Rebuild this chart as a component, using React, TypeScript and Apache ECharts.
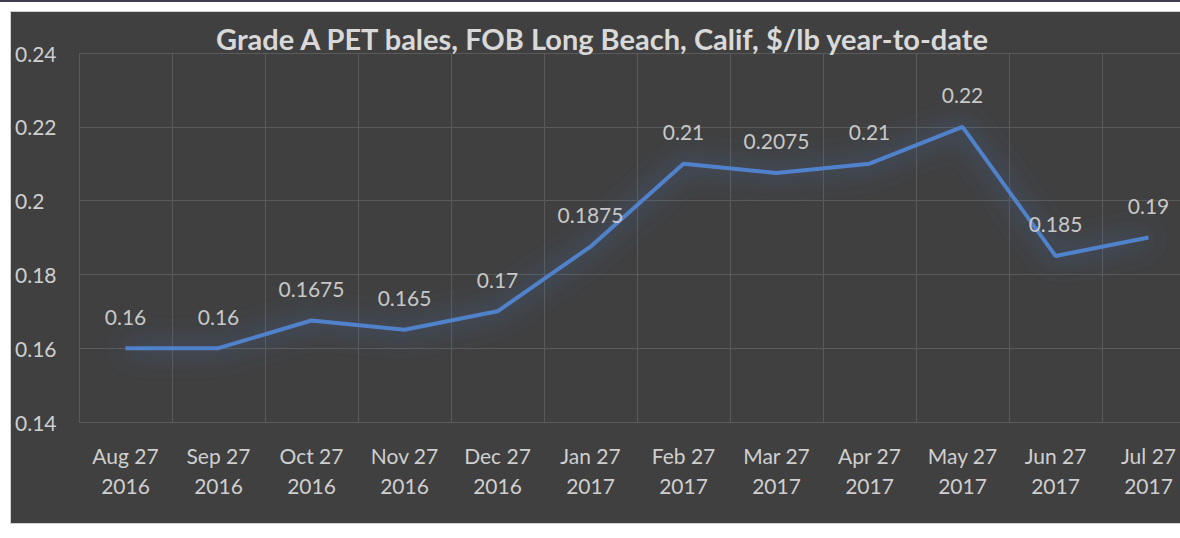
import React, { useEffect, useRef } from "react";
import * as echarts from "echarts";

const categories = [
  "Aug 27\n2016", "Sep 27\n2016", "Oct 27\n2016", "Nov 27\n2016", "Dec 27\n2016", "Jan 27\n2017",
  "Feb 27\n2017", "Mar 27\n2017", "Apr 27\n2017", "May 27\n2017", "Jun 27\n2017", "Jul 27\n2017",
];
const prices = [0.16, 0.16, 0.1675, 0.165, 0.17, 0.1875, 0.21, 0.2075, 0.21, 0.22, 0.185, 0.19];
const titleText = "Grade A PET bales, FOB Long Beach, Calif, $/lb year-to-date";

export default function App() {
  const ref = useRef<HTMLDivElement>(null);
  useEffect(() => {
    const chart = echarts.init(ref.current!, undefined, { renderer: "svg" });
    const font = "Lato, 'Open Sans', sans-serif";
    chart.setOption({
      animation: false,
      backgroundColor: "#404040",
      textStyle: { fontFamily: font },
      title: {
        text: titleText,
        left: 586,
        top: 7,
        textAlign: "center",
        textStyle: { color: "#d9d9d9", fontSize: 29, fontWeight: "bold", fontFamily: font },
      },
      grid: { left: 68, top: 41, width: 1116, height: 369 },
      xAxis: {
        type: "category",
        data: categories,
        boundaryGap: true,
        axisLine: { show: false },
        axisTick: { show: false },
        splitLine: { show: true, lineStyle: { color: "#5a5a5a", width: 1 } },
        axisLabel: { color: "#cfcfcf", fontSize: 21, lineHeight: 30, margin: 18, interval: 0, fontFamily: font },
      },
      yAxis: {
        type: "value",
        min: 0.14,
        max: 0.24,
        interval: 0.02,
        axisLine: { show: false },
        axisTick: { show: false },
        splitLine: { show: true, lineStyle: { color: "#5a5a5a", width: 1 } },
        axisLabel: {
          color: "#cfcfcf",
          fontSize: 21,
          align: "left",
          margin: 64,
          fontFamily: font,
          formatter: (v: number) => String(parseFloat(v.toFixed(4))),
        },
      },
      series: [
        {
          type: "line",
          data: prices,
          symbol: "circle",
          showSymbol: true,
          symbolSize: 1,
          itemStyle: { color: "rgba(0,0,0,0)" },
          lineStyle: {
            color: "#4f82ca",
            width: 4,
            shadowColor: "rgba(70,125,215,0.9)",
            shadowBlur: 28,
          },
          label: {
            show: true,
            position: "top",
            distance: 21,
            color: "#c8c8c8",
            fontSize: 21,
            fontFamily: font,
            formatter: (p: any) => String(p.value),
          },
        },
      ],
    });
    return () => chart.dispose();
  }, []);
  return (
    <div style={{ position: "fixed", left: 0, top: 0, width: 1180, height: 538, background: "#fff", overflow: "hidden" }}>
      <div style={{ position: "absolute", left: 0, top: 0, width: 1180, height: 2, background: "#3f3d4f" }} />
      <div
        style={{
          position: "absolute",
          left: 10,
          top: 11,
          width: 1200,
          height: 511,
          border: "1px solid #d0d0d0",
        }}
      >
        <div ref={ref} style={{ width: 1200, height: 511 }} />
      </div>
    </div>
  );
}
